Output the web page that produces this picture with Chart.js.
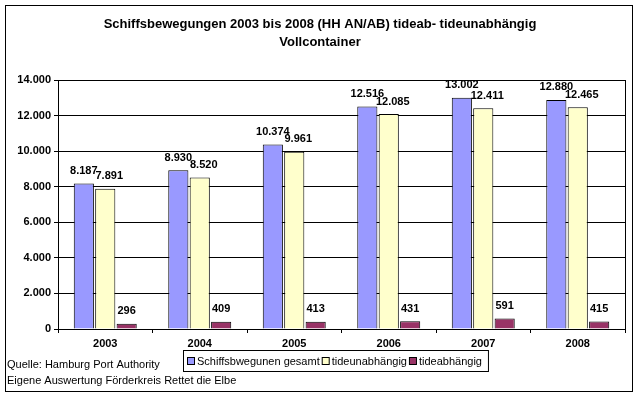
<!DOCTYPE html>
<html>
<head>
<meta charset="utf-8">
<script src="https://cdn.jsdelivr.net/npm/chart.js@4/dist/chart.umd.min.js"></script>
<style>
  html, body { margin: 0; padding: 0; background: #fff; }
  #wrap { width: 640px; height: 396px; position: relative; }
</style>
</head>
<body>
<div id="wrap"><canvas id="chart" width="640" height="396"></canvas></div>
<script>
const years = ['2003', '2004', '2005', '2006', '2007', '2008'];
const gesamt = [8187, 8930, 10374, 12516, 13002, 12880];
const tideunabh = [7891, 8520, 9961, 12085, 12411, 12465];
const tideabh = [296, 409, 413, 431, 591, 415];
const seriesNames = ['Schiffsbwegunen gesamt', 'tideunabhängig', 'tideabhängig'];
const seriesColors = ['#9999ff', '#ffffcc', '#993366'];
const titleLines = ['Schiffsbewegungen 2003 bis 2008 (HH AN/AB) tideab- tideunabhängig', 'Vollcontainer'];
const sourceLines = ['Quelle: Hamburg Port Authority', 'Eigene Auswertung Förderkreis Rettet die Elbe'];

const FONT = '"Liberation Sans", Arial, sans-serif';

function fmt(v) {
  return String(v).replace(/\B(?=(\d{3})+(?!\d))/g, '.');
}

// title, value labels, legend, source notes, frames
const decor = {
  id: 'decor',
  afterDatasetsDraw(chart) {
    const ctx = chart.ctx;
    const ca = chart.chartArea;
    ctx.save();

    // plot area right edge
    ctx.strokeStyle = '#000';
    ctx.lineWidth = 1;
    ctx.beginPath();
    ctx.moveTo(Math.round(ca.right) + 0.5, ca.top);
    ctx.lineTo(Math.round(ca.right) + 0.5, ca.bottom);
    ctx.stroke();

    // value labels
    ctx.fillStyle = '#000';
    ctx.font = 'bold 11px ' + FONT;
    ctx.textAlign = 'center';
    ctx.textBaseline = 'bottom';
    chart.data.datasets.forEach((ds, i) => {
      chart.getDatasetMeta(i).data.forEach((bar, j) => {
        const shift = i === 1 ? 4 : 0; // excel nudges the middle label right
        ctx.fillText(fmt(ds.data[j]), bar.x + shift, bar.y - 7);
      });
    });

    // title
    ctx.font = 'bold 13px ' + FONT;
    ctx.textBaseline = 'middle';
    titleLines.forEach((t, k) => ctx.fillText(t, 320, 24 + k * 18));

    // legend
    ctx.font = '11px ' + FONT;
    ctx.textAlign = 'left';
    const widths = seriesNames.map(n => ctx.measureText(n).width);
    const boxW = 8 + widths.reduce((a, b) => a + b, 0) + seriesNames.length * 12;
    const lx = 183, ly = 350, lh = 21;
    ctx.strokeRect(lx + 0.5, ly + 0.5, boxW, lh);
    let x = lx + 4;
    seriesNames.forEach((n, i) => {
      ctx.fillStyle = seriesColors[i];
      ctx.fillRect(x + 0.5, ly + 7.5, 7, 7);
      ctx.strokeRect(x + 0.5, ly + 7.5, 7, 7);
      ctx.fillStyle = '#000';
      ctx.fillText(n, x + 10, ly + lh / 2 + 1);
      x += widths[i] + 12;
    });

    // source notes
    sourceLines.forEach((t, k) => ctx.fillText(t, 7, 365 + k * 16));

    // outer frame
    ctx.strokeRect(5.5, 5.5, 627, 386);
    ctx.restore();
  }
};

new Chart(document.getElementById('chart'), {
  type: 'bar',
  data: {
    labels: years,
    datasets: [gesamt, tideunabh, tideabh].map((d, i) => ({
      label: seriesNames[i],
      data: d,
      backgroundColor: seriesColors[i],
      borderColor: '#000',
      borderWidth: 1,
      barPercentage: 0.94,
      categoryPercentage: 0.68
    }))
  },
  options: {
    responsive: false,
    animation: false,
    layout: { padding: { left: 6, top: 80, right: 15, bottom: 47 } },
    plugins: { legend: { display: false }, title: { display: false }, tooltip: { enabled: false } },
    scales: {
      x: {
        afterFit: s => { s.height = 20; },
        grid: { drawOnChartArea: false, drawTicks: true, tickLength: 4, color: '#000' },
        border: { color: '#000' },
        ticks: { color: '#000', padding: 4, font: { family: FONT, size: 11, weight: 'bold' } }
      },
      y: {
        min: 0,
        max: 14000,
        afterFit: s => { s.width = 52; },
        grid: { color: '#000', tickLength: 4 },
        border: { color: '#000' },
        ticks: {
          stepSize: 2000,
          color: '#000',
          padding: 3,
          font: { family: FONT, size: 11, weight: 'bold' },
          callback: v => fmt(v)
        }
      }
    }
  },
  plugins: [decor]
});
</script>
</body>
</html>
